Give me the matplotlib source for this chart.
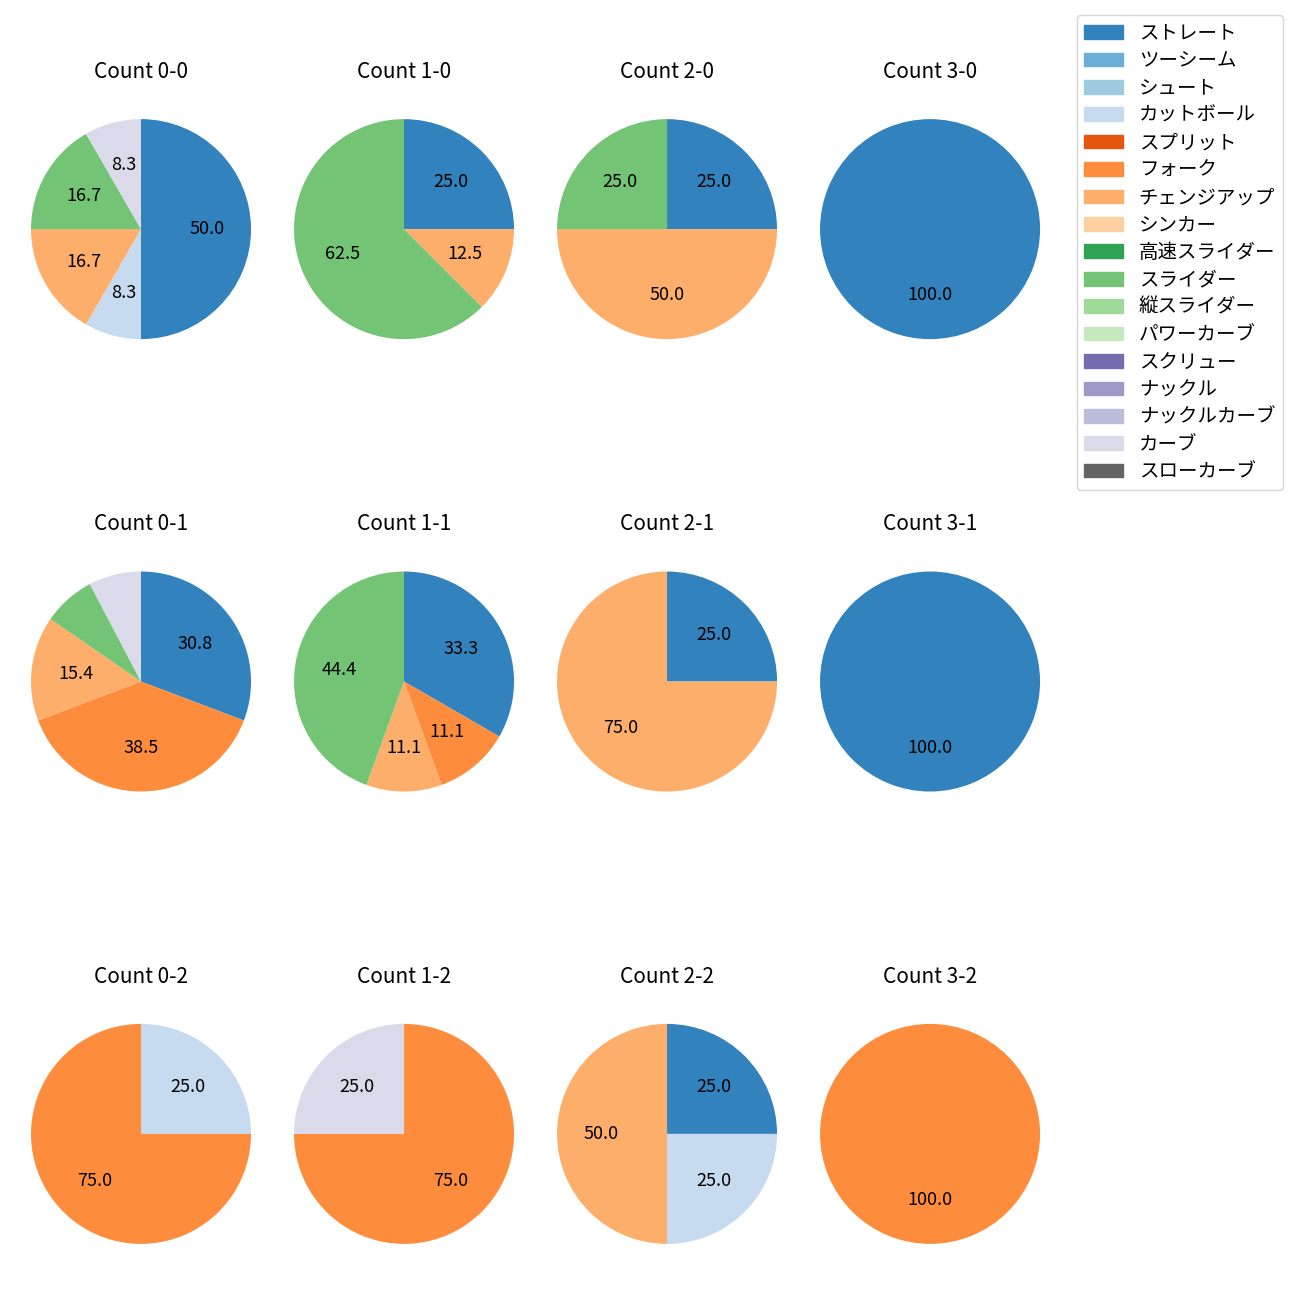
import matplotlib
matplotlib.use("Agg")
import matplotlib.pyplot as plt
import matplotlib.patches as mpatches

plt.rcParams['font.family'] = ['Noto Sans CJK JP', 'DejaVu Sans']

pitch_types = ["ストレート", "ツーシーム", "シュート", "カットボール", "スプリット", "フォーク",
               "チェンジアップ", "シンカー", "高速スライダー", "スライダー", "縦スライダー",
               "パワーカーブ", "スクリュー", "ナックル", "ナックルカーブ", "カーブ", "スローカーブ"]

balls = [0, 1, 2, 3]
strikes = [0, 1, 2]

# pitch counts per type (order of pitch_types), for each count "balls-strikes"
c_0_0 = [6, 0, 0, 1, 0, 0, 2, 0, 0, 2, 0, 0, 0, 0, 0, 1, 0]
c_1_0 = [2, 0, 0, 0, 0, 0, 1, 0, 0, 5, 0, 0, 0, 0, 0, 0, 0]
c_2_0 = [1, 0, 0, 0, 0, 0, 2, 0, 0, 1, 0, 0, 0, 0, 0, 0, 0]
c_3_0 = [1, 0, 0, 0, 0, 0, 0, 0, 0, 0, 0, 0, 0, 0, 0, 0, 0]
c_0_1 = [4, 0, 0, 0, 0, 5, 2, 0, 0, 1, 0, 0, 0, 0, 0, 1, 0]
c_1_1 = [3, 0, 0, 0, 0, 1, 1, 0, 0, 4, 0, 0, 0, 0, 0, 0, 0]
c_2_1 = [1, 0, 0, 0, 0, 0, 3, 0, 0, 0, 0, 0, 0, 0, 0, 0, 0]
c_3_1 = [1, 0, 0, 0, 0, 0, 0, 0, 0, 0, 0, 0, 0, 0, 0, 0, 0]
c_0_2 = [0, 0, 0, 1, 0, 3, 0, 0, 0, 0, 0, 0, 0, 0, 0, 0, 0]
c_1_2 = [0, 0, 0, 0, 0, 3, 0, 0, 0, 0, 0, 0, 0, 0, 0, 1, 0]
c_2_2 = [1, 0, 0, 1, 0, 0, 2, 0, 0, 0, 0, 0, 0, 0, 0, 0, 0]
c_3_2 = [0, 0, 0, 0, 0, 1, 0, 0, 0, 0, 0, 0, 0, 0, 0, 0, 0]

grid = [[c_0_0, c_1_0, c_2_0, c_3_0],
        [c_0_1, c_1_1, c_2_1, c_3_1],
        [c_0_2, c_1_2, c_2_2, c_3_2]]

cmap = plt.get_cmap('tab20c')
colors = [cmap(i) for i in range(len(pitch_types))]

fig, axes = plt.subplots(3, 4, figsize=(13, 13), dpi=100)
fig.subplots_adjust(left=0.0027, right=0.8212, top=0.9296, bottom=0.0219,
                    wspace=-0.0436, hspace=0.6436)


def fmt(p):
    return f"{p:.1f}" if p >= 8 else ""


for r, s in enumerate(strikes):
    for c, b in enumerate(balls):
        ax = axes[r][c]
        vals = grid[r][c]
        v = [x for x in vals if x > 0]
        cols = [colors[i] for i, x in enumerate(vals) if x > 0]
        ax.pie(v, colors=cols, startangle=90, counterclock=False,
               autopct=fmt, textprops={'fontsize': 13})
        ax.set_title(f"Count {b}-{s}", fontsize=15, pad=10)

handles = [mpatches.Patch(color=colors[i], label=pitch_types[i]) for i in range(len(pitch_types))]
fig.legend(handles=handles, loc='upper right', bbox_to_anchor=(1283 / 1300, 1 - 15 / 1300),
           borderaxespad=0, fontsize=14, labelspacing=0.33)

fig.savefig("out.png", dpi=100)
